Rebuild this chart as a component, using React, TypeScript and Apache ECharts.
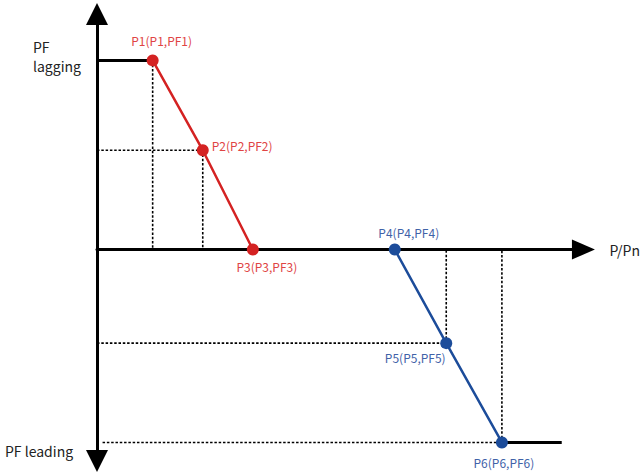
import React, { useEffect, useRef } from "react";
import * as echarts from "echarts";

// Schematic values (x: P/Pn, y: PF)
const redPoints: number[][] = [
  [0.2, 0.99],
  [0.38, 0.52],
  [0.56, 0],
];
const bluePoints: number[][] = [
  [1.07, 0],
  [1.255, -0.49],
  [1.455, -1.01],
];
const redLabels = ["P1(P1,PF1)", "P2(P2,PF2)", "P3(P3,PF3)"];
const blueLabels = ["P4(P4,PF4)", "P5(P5,PF5)", "P6(P6,PF6)"];
const tailEndX = 1.67;
const bottomGuideStartX = 0.02;
const xRange = [0, 1.748];
const yRange = [-1.107, 1.233];
const xAxisName = "P/Pn";
const yTopText = "PF\nlagging";
const yBottomText = "PF leading";

const FONT = "'Noto Sans CJK SC', 'Noto Sans', sans-serif";
const RED = "#d42222";
const RED_TEXT = "#e04444";
const BLUE = "#1c4c9a";
const BLUE_TEXT = "#3f62a8";

export default function App() {
  const ref = useRef<HTMLDivElement>(null);

  useEffect(() => {
    if (!ref.current) return;
    const chart = echarts.init(ref.current, null, { renderer: "svg" });

    const [P1, P2] = redPoints;
    const [, P5, P6] = bluePoints;

    const guides: number[][][] = [
      [[P1[0], P1[1]], [P1[0], 0]],
      [[0, P2[1]], [P2[0], P2[1]]],
      [[P2[0], P2[1]], [P2[0], 0]],
      [[0, P5[1]], [P5[0], P5[1]]],
      [[P5[0], P5[1]], [P5[0], 0]],
      [[bottomGuideStartX, P6[1]], [P6[0], P6[1]]],
      [[P6[0], P6[1]], [P6[0], 0]],
    ];

    const guideSeries = guides.map((seg) => ({
      type: "line",
      data: seg,
      symbol: "none",
      silent: true,
      z: 1,
      lineStyle: { color: "#000", width: 1.6, type: [2.5, 1.8] },
    }));

    const solidSeries = [
      [[0, P1[1]], [P1[0], P1[1]]],
      [[P6[0], P6[1]], [tailEndX, P6[1]]],
    ].map((seg) => ({
      type: "line",
      data: seg,
      symbol: "none",
      silent: true,
      z: 2,
      lineStyle: { color: "#000", width: 3, type: "solid" },
    }));

    const redLabelCfg = [
      { position: "top", offset: [9, -3] },
      { position: "right", offset: [-2, -5] },
      { position: "bottom", offset: [14, 0] },
    ];
    const blueLabelCfg = [
      { position: "top", offset: [14, 0] },
      { position: "bottom", offset: [-31, -3] },
      { position: "bottom", offset: [2, 3] },
    ];

    const mkSeries = (pts: number[][], labels: string[], cfg: any[], color: string, textColor: string) => ({
      type: "line",
      z: 5,
      symbol: "circle",
      symbolSize: 12,
      data: pts.map((p, i) => ({
        value: p,
        label: {
          show: true,
          formatter: labels[i],
          position: cfg[i].position,
          offset: cfg[i].offset,
          distance: 5,
          color: textColor,
          fontSize: 12,
          fontFamily: FONT,
        },
      })),
      lineStyle: { color, width: 2.5 },
      itemStyle: { color, borderWidth: 0 },
    });

    chart.setOption({
      animation: false,
      backgroundColor: "#ffffff",
      grid: { left: 97, top: 14, width: 489.5, height: 447 },
      xAxis: {
        type: "value",
        min: xRange[0],
        max: xRange[1],
        name: xAxisName,
        nameLocation: "end",
        nameGap: 26,
        nameTextStyle: { color: "#222", fontSize: 14, fontFamily: FONT, verticalAlign: "middle" },
        axisLine: {
          show: true,
          onZero: true,
          symbol: ["none", "triangle"],
          symbolSize: [20, 23],
          lineStyle: { color: "#000", width: 3 },
        },
        axisTick: { show: false },
        axisLabel: { show: false },
        splitLine: { show: false },
      },
      yAxis: {
        type: "value",
        min: yRange[0],
        max: yRange[1],
        axisLine: {
          show: true,
          onZero: true,
          symbol: ["triangle", "triangle"],
          symbolSize: [22, 22],
          lineStyle: { color: "#000", width: 3 },
        },
        axisTick: { show: false },
        axisLabel: { show: false },
        splitLine: { show: false },
      },
      graphic: [
        {
          type: "text",
          left: 33,
          top: 37,
          style: { text: yTopText, fill: "#222", fontSize: 14, lineHeight: 19, fontFamily: FONT },
        },
        {
          type: "text",
          left: 5,
          top: 444,
          style: { text: yBottomText, fill: "#222", fontSize: 14, fontFamily: FONT },
        },
      ],
      series: [
        ...guideSeries,
        ...solidSeries,
        mkSeries(redPoints, redLabels, redLabelCfg, RED, RED_TEXT),
        mkSeries(bluePoints, blueLabels, blueLabelCfg, BLUE, BLUE_TEXT),
      ],
    });

    return () => chart.dispose();
  }, []);

  return (
    <div
      ref={ref}
      style={{ position: "fixed", left: 0, top: 0, width: 643, height: 474, background: "#fff" }}
    />
  );
}
